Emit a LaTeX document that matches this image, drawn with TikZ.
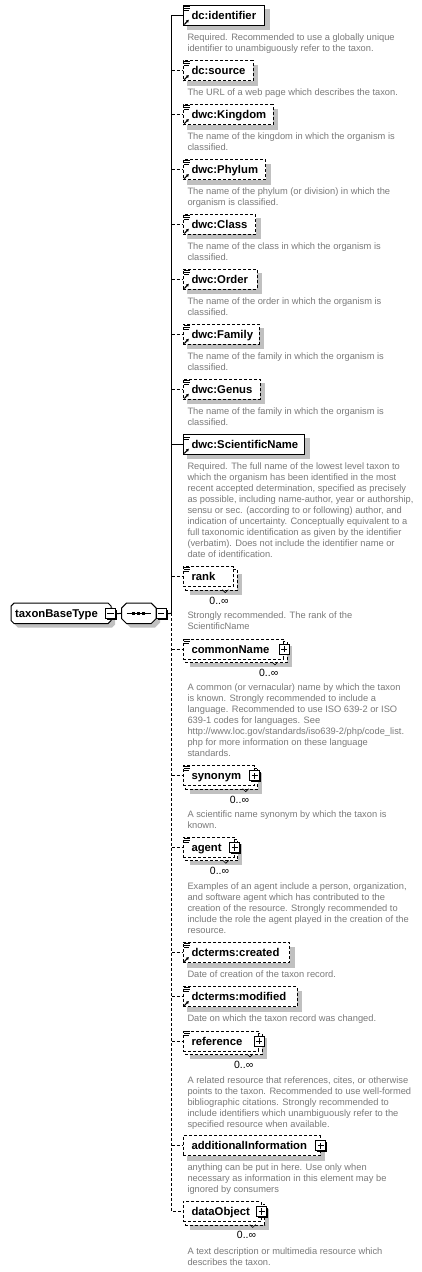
\documentclass[tikz,border=0pt]{standalone}
\usepackage{fontspec}
\setmainfont{Liberation Sans}
\usetikzlibrary{backgrounds,shadows,arrows.meta}
\pgfdeclarelayer{paper}
\pgfsetlayers{paper,background,main}
\definecolor{shgray}{RGB}{192,192,192}
\definecolor{dscgray}{RGB}{122,122,122}
\newcommand\elfont{\bfseries\fontsize{11.3}{13}\selectfont\hyphenpenalty=10000 \exhyphenpenalty=10000 }
\newcommand\dtext[1]{\parbox[t]{232pt}{\fontsize{9.3}{11}\selectfont\raggedright #1}}
\tikzset{
  solidl/.style={line width=1pt},
  dashl/.style={line width=1pt, dash pattern=on 3pt off 2pt},
  elbox/.style={draw, line width=1pt, fill=white, anchor=west, minimum height=20pt,
    inner xsep=8.3pt, inner ysep=0pt, align=left, text height=10pt, text depth=2pt, font=\elfont},
  optbox/.style={elbox, dash pattern=on 3pt off 2pt},
  pmbox/.style={draw, fill=white, line width=1pt, minimum size=10pt, inner sep=0pt,
    drop shadow={shadow xshift=1.3pt, shadow yshift=-1.3pt, fill=black, opacity=1}},
  plusbox/.style={pmbox, path picture={
    \draw[line width=1pt] ([xshift=-3.2pt]path picture bounding box.center) -- ([xshift=3.2pt]path picture bounding box.center)
      ([yshift=-3.2pt]path picture bounding box.center) -- ([yshift=3.2pt]path picture bounding box.center);}},
  minusbox/.style={pmbox, path picture={
    \draw[line width=1pt] ([xshift=-3.2pt]path picture bounding box.center) -- ([xshift=3.2pt]path picture bounding box.center);}},
  mult/.style={anchor=base east, inner sep=0pt, font=\fontsize{10.5}{12}\selectfont},
  dsc/.style={anchor=base west, inner sep=0pt, text=dscgray},
}
\begin{document}
\begin{tikzpicture}[x=1pt,y=-1pt]
\begin{pgfonlayer}{paper}
\fill[white] (0,0) rectangle (421,1272);
\end{pgfonlayer}
\useasboundingbox (0,0) rectangle (421,1272);

% root element and compositor
\node[anchor=west, minimum height=20pt, inner xsep=4pt, inner ysep=0pt, text width=91.7pt, align=left,
  text height=10pt, text depth=2pt, font=\elfont] (tbt) at (11,613.3) {taxonBaseType};
\node[minimum width=34.3pt, minimum height=20pt, inner sep=0pt] (seq) at (138.85,613.3) {};
\node[minusbox] (tbtm) at (110.5,613.8) {};
\node[minusbox] (seqm) at (161.2,613.8) {};
\coordinate (jx) at (171.5,613.3);

% child elements
\node[elbox,  text width=65.0pt]  (id)   at (182.7,15.3)   {dc:identifier};
\node[optbox, text width=53.4pt]  (src)  at (182.7,70.5)   {dc:source};
\node[optbox, text width=73.4pt]  (kin)  at (182.7,114.5)  {dwc:Kingdom};
\node[optbox, text width=65.7pt]  (phy)  at (182.7,169.5)  {dwc:Phylum};
\node[optbox, text width=55.7pt]  (cls)  at (182.7,224.3)  {dwc:Class};
\node[optbox, text width=57.4pt]  (ord)  at (182.7,279.3)  {dwc:Order};
\node[optbox, text width=59.4pt]  (fam)  at (182.7,334.3)  {dwc:Family};
\node[optbox, text width=60.4pt]  (gen)  at (182.7,389.3)  {dwc:Genus};
\node[elbox,  text width=105.0pt] (sci)  at (182.7,444.2)  {dwc:ScientificName};
\node[optbox, text width=34.0pt]  (rank) at (182.7,576.7)  {rank};
\node[optbox, text width=83.7pt]  (cn)   at (182.7,649.0)  {commonName};
\node[optbox, text width=54.4pt]  (syn)  at (182.7,775.7)  {synonym};
\node[optbox, text width=34.5pt]  (ag)   at (182.7,847.3)  {agent};
\node[optbox, text width=90.0pt]  (cre)  at (182.7,952.5)  {dcterms:created};
\node[optbox, text width=97.4pt]  (mod)  at (182.7,996.5)  {dcterms:modified};
\node[optbox, text width=58.7pt]  (ref)  at (182.7,1041.0) {reference};
\node[optbox, text width=120.4pt] (addi) at (182.7,1145.7) {additionalInformation};
\node[optbox, text width=61.5pt]  (dobj) at (182.7,1211.5) {dataObject};

% background: shadows, stacked boxes, octagons
\begin{pgfonlayer}{background}
  \foreach \n in {id,src,kin,phy,cls,ord,fam,gen,sci,cre,mod,addi}
    \fill[shgray] ([shift={(4.5,4.5)}]\n.north west) rectangle ([shift={(4.5,4.5)}]\n.south east);
  \foreach \n in {rank,cn,syn,ag,ref,dobj}{
    \fill[shgray] ([shift={(7.5,7.5)}]\n.north west) rectangle ([shift={(7.5,7.5)}]\n.south east);
    \draw[dashl, fill=white] ([shift={(3,3)}]\n.north west) rectangle ([shift={(3,3)}]\n.south east);
  }
  \foreach \n/\c in {tbt/3,seq/5}{
    \fill[shgray] ([shift={(4+\c,4)}]\n.north west) -- ([shift={(4-\c,4)}]\n.north east) -- ([shift={(4,4+\c)}]\n.north east)
      -- ([shift={(4,4-\c)}]\n.south east) -- ([shift={(4-\c,4)}]\n.south east) -- ([shift={(4+\c,4)}]\n.south west)
      -- ([shift={(4,4-\c)}]\n.south west) -- ([shift={(4,4+\c)}]\n.north west) -- cycle;
    \draw[solidl, fill=white] ([shift={(\c,0)}]\n.north west) -- ([shift={(-\c,0)}]\n.north east) -- ([shift={(0,\c)}]\n.north east)
      -- ([shift={(0,-\c)}]\n.south east) -- ([shift={(-\c,0)}]\n.south east) -- ([shift={(\c,0)}]\n.south west)
      -- ([shift={(0,-\c)}]\n.south west) -- ([shift={(0,\c)}]\n.north west) -- cycle;
  }
\end{pgfonlayer}

% sequence symbol
\draw[solidl] ([xshift=5pt]seq.west) -- ([xshift=-5pt]seq.east);
\foreach \d in {-5,0,5}
  \fill ([shift={(\d-1.5,-1.5)}]seq.center) rectangle ([shift={(\d+1.5,1.5)}]seq.center);

% plus boxes
\node[plusbox] (cnp)   at (cn.east)   {};
\node[plusbox] (synp)  at (syn.east)  {};
\node[plusbox] (agp)   at (ag.east)   {};
\node[plusbox] (refp)  at (ref.east)  {};
\node[plusbox] (addip) at (addi.east) {};
\node[plusbox] (dobjp) at (dobj.east) {};

% icons
\foreach \n in {id,src,kin,phy,cls,ord,fam,gen,sci,rank,cn,syn,ag,cre,mod,ref}
  \draw[line width=0.9pt] ([shift={(1.3,1.2)}]\n.north west) -- ++(6.3,0)
    ([shift={(1.3,3.3)}]\n.north west) -- ++(5.6,0)
    ([shift={(1.3,5.4)}]\n.north west) -- ++(4.6,0);
\foreach \n in {id,src,kin,phy,cls,ord,fam,gen,sci,cre,mod}
  \draw[line width=1.1pt, -{Latex[length=2.8pt,width=3.4pt]}] ([shift={(1.6,-1.3)}]\n.south west) -- ++(4.6,-4.8);

% stacked-box notches
\foreach \n in {rank,cn,syn,ag,ref,dobj}
  \draw[line width=0.6pt] ([shift={(-12,2.5)}]\n.south east) -- ++(3,3) -- ++(3,-3);

% multiplicities
\node[mult] (rankm) at ([shift={(-5.5,27.3)}]rank.east) {0..∞};
\node[mult] (cnm)   at ([shift={(-5.5,27.3)}]cn.east)   {0..∞};
\node[mult] (synm)  at ([shift={(-5.5,27.3)}]syn.east)  {0..∞};
\node[mult] (agm)   at ([shift={(-5.5,27.3)}]ag.east)   {0..∞};
\node[mult] (refm)  at ([shift={(-5.5,27.3)}]ref.east)  {0..∞};
\node[mult] (dobjm) at ([shift={(-5.5,27.3)}]dobj.east) {0..∞};

% connectors
\draw[solidl] (tbtm.east) -- (seq.west);
\draw[solidl] (seqm.east) -- (jx);
\draw[solidl] (jx) -- (jx |- id.west) -- (id.west);
\draw[solidl] (jx |- sci.west) -- (sci.west);
\draw[dashl] (jx) -- (jx |- dobj.west) -- (dobj.west);
\foreach \n in {src,kin,phy,cls,ord,fam,gen,rank,cn,syn,ag,cre,mod,ref,addi}
  \draw[dashl] (jx |- \n.west) -- (\n.west);

% annotations
\node[dsc] (idd)   at (187.3,40.7)   {\dtext{Required. Recommended to use a globally unique\\identifier to unambiguously refer to the taxon.}};
\node[dsc] (srcd)  at (187.3,95.7)   {\dtext{The URL of a web page which describes the taxon.}};
\node[dsc] (kind)  at (187.3,139.7)  {\dtext{The name of the kingdom in which the organism is\\classified.}};
\node[dsc] (phyd)  at (187.3,194.7)  {\dtext{The name of the phylum (or division) in which the\\organism is classified.}};
\node[dsc] (clsd)  at (187.3,249.7)  {\dtext{The name of the class in which the organism is\\classified.}};
\node[dsc] (ordd)  at (187.3,304.7)  {\dtext{The name of the order in which the organism is\\classified.}};
\node[dsc] (famd)  at (187.3,359.7)  {\dtext{The name of the family in which the organism is\\classified.}};
\node[dsc] (gend)  at (187.3,414.7)  {\dtext{The name of the family in which the organism is\\classified.}};
\node[dsc] (scid)  at (187.3,469.7)  {\dtext{Required. The full name of the lowest level taxon to\\which the organism has been identified in the most\\recent accepted determination, specified as precisely\\as possible, including name-author, year or authorship,\\sensu or sec. (according to or following) author, and\\indication of uncertainty. Conceptually equivalent to a\\full taxonomic identification as given by the identifier\\(verbatim). Does not include the identifier name or\\date of identification.}};
\node[dsc] (rankd) at (187.3,618.3)  {\dtext{Strongly recommended. The rank of the\\ScientificName}};
\node[dsc] (cnd)   at (187.3,690.7)  {\dtext{A common (or vernacular) name by which the taxon\\is known. Strongly recommended to include a\\language. Recommended to use ISO 639-2 or ISO\\639-1 codes for languages. See\\http://www.loc.gov/standards/iso639-2/php/code\_list.\\php for more information on these language\\standards.}};
\node[dsc] (synd)  at (187.3,817.3)  {\dtext{A scientific name synonym by which the taxon is\\known.}};
\node[dsc] (agd)   at (187.3,889.7)  {\dtext{Examples of an agent include a person, organization,\\and software agent which has contributed to the\\creation of the resource. Strongly recommended to\\include the role the agent played in the creation of the\\resource.}};
\node[dsc] (cred)  at (187.3,977.7)  {\dtext{Date of creation of the taxon record.}};
\node[dsc] (modd)  at (187.3,1021.7) {\dtext{Date on which the taxon record was changed.}};
\node[dsc] (refd)  at (187.3,1083.0) {\dtext{A related resource that references, cites, or otherwise\\points to the taxon. Recommended to use well-formed\\bibliographic citations. Strongly recommended to\\include identifiers which unambiguously refer to the\\specified resource when available.}};
\node[dsc] (addid) at (187.3,1170.7) {\dtext{anything can be put in here. Use only when\\necessary as information in this element may be\\ignored by consumers}};
\node[dsc] (dobjd) at (187.3,1254.0) {\dtext{A text description or multimedia resource which\\describes the taxon.}};
\end{tikzpicture}
\end{document}
